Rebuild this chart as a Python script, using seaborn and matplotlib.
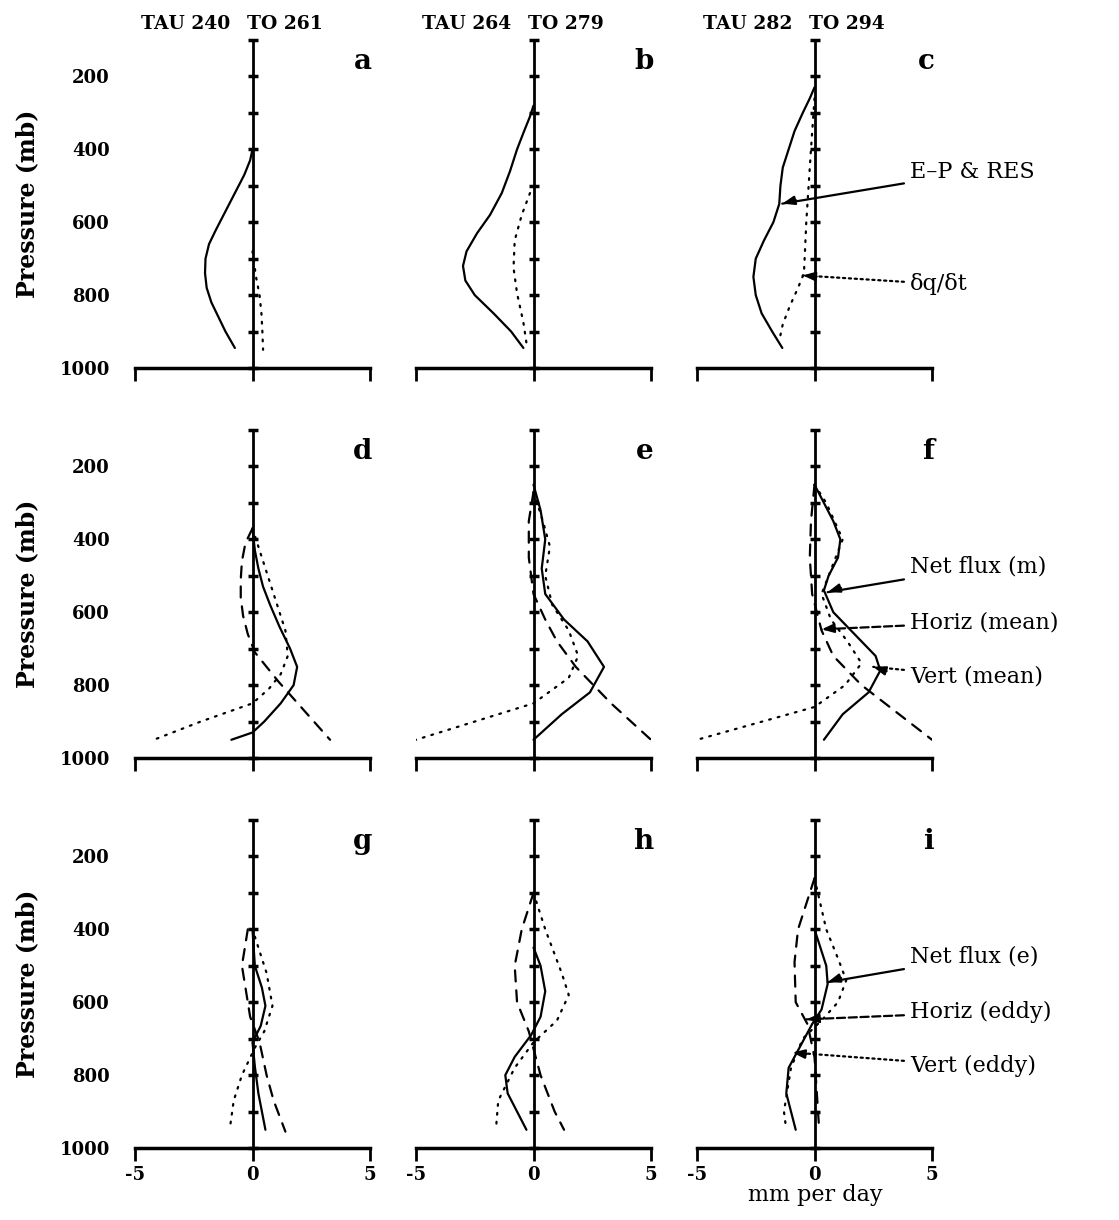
import numpy as np
import pandas as pd
import matplotlib
matplotlib.use("Agg")
import matplotlib.pyplot as plt
import seaborn as sns

# -----------------------------
# Data
# x = mm per day, p = pressure (mb)
# -----------------------------
levels = [100, 200, 300, 400, 500, 600, 700, 800, 900, 1000]
ytick_vals = [200, 400, 600, 800, 1000]
xtick_vals = [-5, 0, 5]
headers = ["TAU 240", "TAU 264", "TAU 282"]
headers_to = ["TO 261", "TO 279", "TO 294"]
letters = ["a", "b", "c", "d", "e", "f", "g", "h", "i"]

# row 1 : E-P & RES (solid), dq/dt (dotted)
a_solid_p = [400, 430, 470, 520, 570, 620, 660, 700, 740, 780, 820, 860, 900, 945]
a_solid_x = [0.0, -0.1, -0.35, -0.75, -1.15, -1.55, -1.85, -2.0, -2.02, -1.95, -1.75, -1.45, -1.15, -0.75]
a_dot_p = [680, 750, 800, 850, 900, 950]
a_dot_x = [0.0, 0.15, 0.3, 0.38, 0.42, 0.45]

b_solid_p = [280, 310, 350, 400, 460, 520, 580, 630, 680, 720, 760, 800, 850, 900, 945]
b_solid_x = [0.0, -0.15, -0.4, -0.7, -1.0, -1.35, -1.85, -2.4, -2.85, -3.0, -2.9, -2.5, -1.7, -0.95, -0.43]
b_dot_p = [520, 580, 650, 725, 795, 875, 940]
b_dot_x = [-0.15, -0.5, -0.8, -0.85, -0.7, -0.43, -0.28]

c_solid_p = [230, 260, 300, 350, 400, 450, 500, 550, 600, 650, 700, 750, 800, 850, 900, 945]
c_solid_x = [0.0, -0.2, -0.5, -0.85, -1.1, -1.35, -1.45, -1.5, -1.75, -2.15, -2.5, -2.6, -2.5, -2.25, -1.8, -1.37]
c_dot_p = [260, 400, 500, 600, 700, 740, 780, 830, 880, 910]
c_dot_x = [0.0, -0.15, -0.25, -0.35, -0.42, -0.45, -0.7, -1.05, -1.35, -1.45]

# row 2 : net flux mean (solid), horiz mean (dashed), vert mean (dotted)
d_solid_p = [370, 430, 480, 530, 580, 640, 700, 750, 800, 850, 900, 930, 950]
d_solid_x = [0.0, 0.1, 0.25, 0.45, 0.75, 1.15, 1.6, 1.9, 1.75, 1.2, 0.5, 0.0, -0.9]
d_dot_p = [370, 450, 550, 650, 720, 770, 810, 850, 900, 950]
d_dot_x = [0.0, 0.4, 0.9, 1.4, 1.5, 1.2, 0.7, 0.0, -2.2, -4.2]
d_dash_p = [370, 410, 460, 510, 560, 610, 660, 710, 790, 870, 950]
d_dash_x = [0.0, -0.3, -0.45, -0.5, -0.5, -0.4, -0.2, 0.1, 1.1, 2.2, 3.3]

e_solid_p = [250, 320, 400, 480, 550, 620, 680, 750, 820, 880, 950]
e_solid_x = [0.0, 0.3, 0.5, 0.35, 0.5, 1.3, 2.3, 3.0, 2.4, 1.2, 0.0]
e_dot_p = [270, 350, 420, 500, 580, 650, 720, 780, 850, 950]
e_dot_x = [0.0, 0.4, 0.7, 0.5, 0.8, 1.5, 1.9, 1.5, 0.0, -5.0]
e_dash_p = [270, 350, 450, 550, 620, 680, 750, 850, 950]
e_dash_x = [0.0, -0.2, -0.2, 0.0, 0.5, 1.0, 1.8, 3.3, 5.0]

f_solid_p = [250, 300, 350, 400, 450, 500, 540, 600, 660, 720, 760, 820, 880, 950]
f_solid_x = [0.0, 0.4, 0.8, 1.1, 1.0, 0.6, 0.4, 0.8, 1.7, 2.6, 2.8, 2.3, 1.2, 0.4]
f_dot_p = [250, 300, 400, 500, 550, 620, 680, 740, 800, 860, 950]
f_dot_x = [0.0, 0.5, 1.2, 0.6, 0.3, 0.7, 1.4, 2.0, 1.3, 0.0, -5.0]
f_dash_p = [250, 350, 450, 550, 650, 720, 800, 880, 950]
f_dash_x = [0.0, -0.15, -0.2, -0.1, 0.3, 0.8, 2.0, 3.6, 5.0]

# row 3 : net flux eddy (solid), horiz eddy (dashed), vert eddy (dotted)
g_solid_p = [400, 500, 560, 610, 665, 710, 776, 850, 950]
g_solid_x = [0.0, 0.1, 0.4, 0.55, 0.35, 0.0, 0.1, 0.25, 0.55]
g_dot_p = [420, 520, 610, 680, 725, 800, 870, 940]
g_dot_x = [0.1, 0.6, 0.85, 0.5, 0.1, -0.45, -0.8, -0.95]
g_dash_p = [400, 500, 640, 710, 800, 870, 955]
g_dash_x = [-0.2, -0.45, -0.1, 0.3, 0.6, 0.9, 1.4]

h_solid_p = [450, 500, 570, 640, 690, 750, 800, 850, 900, 950]
h_solid_x = [0.0, 0.3, 0.5, 0.3, -0.1, -0.8, -1.2, -1.1, -0.7, -0.3]
h_dot_p = [300, 400, 520, 580, 650, 710, 780, 870, 950]
h_dot_x = [0.0, 0.5, 1.2, 1.5, 1.0, 0.0, -0.8, -1.5, -1.6]
h_dash_p = [300, 400, 500, 600, 680, 800, 900, 950]
h_dash_x = [0.0, -0.5, -0.8, -0.7, -0.2, 0.3, 0.9, 1.3]

i_solid_p = [400, 500, 550, 620, 660, 720, 780, 850, 900, 950]
i_solid_x = [0.0, 0.5, 0.56, 0.3, -0.1, -0.6, -1.1, -1.2, -1.0, -0.8]
i_dot_p = [260, 400, 480, 540, 600, 650, 700, 780, 900, 950]
i_dot_x = [0.0, 0.5, 1.0, 1.35, 1.0, 0.3, -0.5, -1.0, -1.3, -1.2]
i_dash_p = [260, 400, 490, 600, 660, 750, 850, 950]
i_dash_x = [0.0, -0.7, -0.85, -0.8, -0.3, 0.0, 0.1, 0.2]

panels = [
    [(a_solid_x, a_solid_p, "-"), (a_dot_x, a_dot_p, ":")],
    [(b_solid_x, b_solid_p, "-"), (b_dot_x, b_dot_p, ":")],
    [(c_solid_x, c_solid_p, "-"), (c_dot_x, c_dot_p, ":")],
    [(d_solid_x, d_solid_p, "-"), (d_dot_x, d_dot_p, ":"), (d_dash_x, d_dash_p, "--")],
    [(e_solid_x, e_solid_p, "-"), (e_dot_x, e_dot_p, ":"), (e_dash_x, e_dash_p, "--")],
    [(f_solid_x, f_solid_p, "-"), (f_dot_x, f_dot_p, ":"), (f_dash_x, f_dash_p, "--")],
    [(g_solid_x, g_solid_p, "-"), (g_dot_x, g_dot_p, ":"), (g_dash_x, g_dash_p, "--")],
    [(h_solid_x, h_solid_p, "-"), (h_dot_x, h_dot_p, ":"), (h_dash_x, h_dash_p, "--")],
    [(i_solid_x, i_solid_p, "-"), (i_dot_x, i_dot_p, ":"), (i_dash_x, i_dash_p, "--")],
]

line_styles = {"-": "-", ":": (0, (0.8, 3.2)), "--": (0, (5, 4))}

# -----------------------------
# Figure
# -----------------------------
sns.set_theme(style="white")
plt.rcParams['font.family'] = ['DejaVu Serif']
plt.rcParams['axes.unicode_minus'] = False
plt.rcParams['text.color'] = 'black'
plt.rcParams['xtick.color'] = 'black'
plt.rcParams['ytick.color'] = 'black'

W, H = 1119, 1220
fig = plt.figure(figsize=(W / 100, H / 100), dpi=100)

col_left = [135, 416, 697]
row_bottom = [368, 758, 1148]
ax_w, ax_h = 235, 328

axes = []
for r in range(3):
    for c in range(3):
        ax = fig.add_axes([col_left[c] / W, 1 - row_bottom[r] / H, ax_w / W, ax_h / H])
        axes.append(ax)

for k, ax in enumerate(axes):
    r, c = divmod(k, 3)
    for xs, ps, ls in panels[k]:
        df = pd.DataFrame({"x": xs, "p": ps})
        sns.lineplot(data=df, x="x", y="p", sort=False, estimator=None, color="black",
                     lw=1.6, linestyle=line_styles[ls], dash_capstyle="round",
                     solid_joinstyle="round", ax=ax)

    # center line with pressure marks
    ax.plot([0] * len(levels), levels, color="black", lw=2, marker="_", ms=7, mew=2.5,
            clip_on=False)

    ax.set_xlim(-5, 5)
    ax.set_ylim(1000, 100)
    for s in ["top", "right", "left"]:
        ax.spines[s].set_visible(False)
    ax.spines["bottom"].set_color("black")
    ax.spines["bottom"].set_linewidth(2.5)
    ax.set_xticks(xtick_vals)
    ax.tick_params(axis="x", direction="out", length=9, width=2, color="black",
                   bottom=True, labelbottom=(r == 2), labelsize=13, pad=4)
    for t in ax.get_xticklabels():
        t.set_fontweight("bold")
    ax.set_xlabel("")
    ax.set_ylabel("")
    if c == 0:
        ax.set_yticks(ytick_vals)
        ax.set_yticklabels([str(v) for v in ytick_vals], fontweight="bold", fontsize=13)
        ax.tick_params(axis="y", length=0, pad=18)
        ax.text(-0.46, 0.5, "Pressure (mb)", transform=ax.transAxes, rotation=90,
                ha="center", va="center", fontsize=17, fontweight="bold")
    else:
        ax.set_yticks([])
    ax.grid(False)

    ax.text(5.1, 158, letters[k], ha="right", va="center", fontsize=20, fontweight="bold")

    if r == 0:
        ax.text(-0.95, 1.05, headers[c], transform=ax.get_xaxis_transform(),
                ha="right", va="center", fontsize=13.5, fontweight="bold")
        ax.text(-0.25, 1.05, headers_to[c], transform=ax.get_xaxis_transform(),
                ha="left", va="center", fontsize=13.5, fontweight="bold")


def note(ax, text, xy, ty, ls):
    # leader line in the curve's style, then a small solid arrow head at its end
    ax.annotate(text, xy=xy, xycoords="data", xytext=(910, H - ty), textcoords="figure pixels",
                ha="left", va="center", fontsize=16,
                arrowprops=dict(arrowstyle="-", color="black", lw=1.6, linestyle=ls,
                                shrinkA=2, shrinkB=0))
    end = ax.transData.transform(xy)
    start = np.array([906.0, H - ty])
    d = (start - end) / np.hypot(*(start - end))
    tail = ax.transData.inverted().transform(end + d * 14)
    ax.annotate("", xy=xy, xycoords="data", xytext=tail, textcoords="data",
                arrowprops=dict(arrowstyle="-|>,head_length=0.6,head_width=0.22",
                                color="black", lw=1.6, shrinkA=0, shrinkB=0))


fig.canvas.draw()
note(axes[2], "E\u2013P & RES", (-1.37, 549), 172, "-")
note(axes[2], "\u03b4q/\u03b4t", (-0.5, 746), 284, ":")
note(axes[5], "Net flux (m)", (0.56, 545), 567, "-")
note(axes[5], "Horiz (mean)", (0.3, 647), 622, "--")
note(axes[5], "Vert (mean)", (2.5, 750), 677, ":")
note(axes[8], "Net flux (e)", (0.56, 545), 957, "-")
note(axes[8], "Horiz (eddy)", (-0.34, 647), 1012, "--")
note(axes[8], "Vert (eddy)", (-0.94, 738), 1066, ":")

fig.text(815 / W, 1 - 1195 / H, "mm per day", ha="center", va="center", fontsize=16)

fig.savefig("out.png", dpi=100)
